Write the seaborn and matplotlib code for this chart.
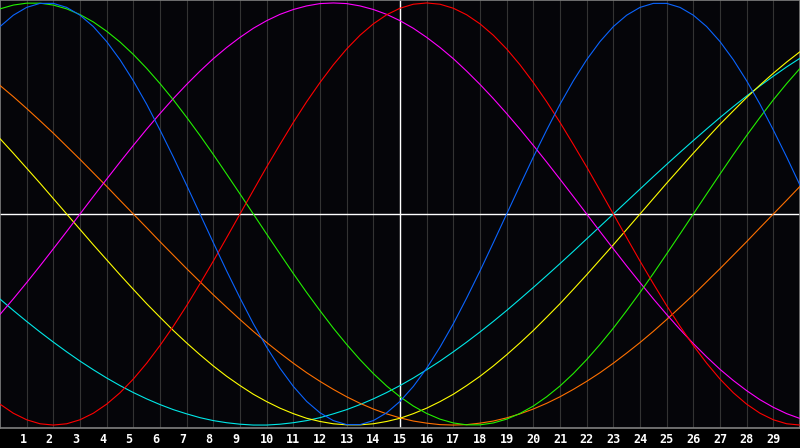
import matplotlib
matplotlib.use('Agg')
import matplotlib.pyplot as plt
import pandas as pd
import seaborn as sns

# day of month (x, read every half day) and the cycle values
days = [d / 2 for d in range(61)]
tick_days = list(range(1, 30))

physical = [0.888, 0.942, 0.979, 0.998, 0.998, 0.979, 0.942, 0.888, 0.817, 0.731, 0.631,
            0.520, 0.398, 0.270, 0.136, 0.000, -0.136, -0.270, -0.398, -0.520, -0.631,
            -0.731, -0.817, -0.888, -0.942, -0.979, -0.998, -0.998, -0.979, -0.942, -0.888,
            -0.817, -0.731, -0.631, -0.520, -0.398, -0.270, -0.136, 0.000, 0.136, 0.270,
            0.398, 0.520, 0.631, 0.731, 0.817, 0.888, 0.942, 0.979, 0.998, 0.998, 0.979,
            0.942, 0.888, 0.817, 0.731, 0.631, 0.520, 0.398, 0.270, 0.136]
emotional = [-0.901, -0.944, -0.975, -0.994, -1.000, -0.994, -0.975, -0.944, -0.901, -0.847,
             -0.782, -0.707, -0.623, -0.532, -0.434, -0.330, -0.223, -0.112, 0.000, 0.112,
             0.223, 0.330, 0.434, 0.532, 0.623, 0.707, 0.782, 0.847, 0.901, 0.944, 0.975,
             0.994, 1.000, 0.994, 0.975, 0.944, 0.901, 0.847, 0.782, 0.707, 0.623, 0.532,
             0.434, 0.330, 0.223, 0.112, 0.000, -0.112, -0.223, -0.330, -0.434, -0.532,
             -0.623, -0.707, -0.782, -0.847, -0.901, -0.944, -0.975, -0.994, -1.000]
intellectual = [0.972, 0.990, 0.999, 0.999, 0.990, 0.972, 0.945, 0.910, 0.866, 0.815, 0.756,
                0.690, 0.618, 0.541, 0.458, 0.372, 0.282, 0.189, 0.095, 0.000, -0.095,
                -0.189, -0.282, -0.372, -0.458, -0.541, -0.618, -0.690, -0.756, -0.815,
                -0.866, -0.910, -0.945, -0.972, -0.990, -0.999, -0.999, -0.990, -0.972,
                -0.945, -0.910, -0.866, -0.815, -0.756, -0.690, -0.618, -0.541, -0.458,
                -0.372, -0.282, -0.189, -0.095, 0.000, 0.095, 0.189, 0.282, 0.372, 0.458,
                0.541, 0.618, 0.690]
intuitive = [-0.476, -0.402, -0.325, -0.246, -0.165, -0.083, 0.000, 0.083, 0.165, 0.246,
             0.325, 0.402, 0.476, 0.547, 0.614, 0.677, 0.736, 0.789, 0.837, 0.880, 0.916,
             0.946, 0.969, 0.986, 0.997, 1.000, 0.997, 0.986, 0.969, 0.946, 0.916, 0.880,
             0.837, 0.789, 0.736, 0.677, 0.614, 0.547, 0.476, 0.402, 0.325, 0.246, 0.165,
             0.083, 0.000, -0.083, -0.165, -0.246, -0.325, -0.402, -0.476, -0.547, -0.614,
             -0.677, -0.736, -0.789, -0.837, -0.880, -0.916, -0.946, -0.969]
aesthetic = [0.357, 0.288, 0.217, 0.146, 0.073, 0.000, -0.073, -0.146, -0.217, -0.288,
             -0.357, -0.425, -0.489, -0.552, -0.611, -0.667, -0.720, -0.769, -0.813, -0.854,
             -0.889, -0.920, -0.946, -0.968, -0.983, -0.994, -0.999, -0.999, -0.994, -0.983,
             -0.968, -0.946, -0.920, -0.889, -0.854, -0.813, -0.769, -0.720, -0.667, -0.611,
             -0.552, -0.489, -0.425, -0.357, -0.288, -0.217, -0.146, -0.073, 0.000, 0.073,
             0.146, 0.217, 0.288, 0.357, 0.425, 0.489, 0.552, 0.611, 0.667, 0.720, 0.769]
awareness = [0.609, 0.556, 0.500, 0.442, 0.383, 0.321, 0.259, 0.195, 0.131, 0.065, 0.000,
             -0.065, -0.131, -0.195, -0.259, -0.321, -0.383, -0.442, -0.500, -0.556, -0.609,
             -0.659, -0.707, -0.752, -0.793, -0.831, -0.866, -0.897, -0.924, -0.947, -0.966,
             -0.981, -0.991, -0.998, -1.000, -0.998, -0.991, -0.981, -0.966, -0.947, -0.924,
             -0.897, -0.866, -0.831, -0.793, -0.752, -0.707, -0.659, -0.609, -0.556, -0.500,
             -0.442, -0.383, -0.321, -0.259, -0.195, -0.131, -0.065, 0.000, 0.065, 0.131]
spiritual = [-0.403, -0.457, -0.509, -0.559, -0.607, -0.653, -0.697, -0.738, -0.777, -0.813,
             -0.846, -0.876, -0.903, -0.927, -0.947, -0.965, -0.979, -0.989, -0.996, -1.000,
             -1.000, -0.996, -0.989, -0.979, -0.965, -0.947, -0.927, -0.903, -0.876, -0.846,
             -0.813, -0.777, -0.738, -0.697, -0.653, -0.607, -0.559, -0.509, -0.457, -0.403,
             -0.348, -0.292, -0.235, -0.177, -0.118, -0.059, 0.000, 0.059, 0.118, 0.177,
             0.235, 0.292, 0.348, 0.403, 0.457, 0.509, 0.559, 0.607, 0.653, 0.697, 0.738]

cycles = ['spiritual', 'awareness', 'aesthetic', 'intuitive', 'intellectual', 'emotional', 'physical']
series = [spiritual, awareness, aesthetic, intuitive, intellectual, emotional, physical]
palette = {'physical': '#0a64ff', 'emotional': '#ff0000', 'intellectual': '#22f000',
           'intuitive': '#ff00ff', 'aesthetic': '#ffff00', 'awareness': '#ff7000',
           'spiritual': '#00e8e8'}

df = pd.DataFrame({
    'day': days * len(series),
    'value': [v for s in series for v in s],
    'cycle': [c for c in cycles for _ in days],
})

sns.set_style('dark', {'axes.facecolor': '#050509', 'figure.facecolor': '#000000',
                       'axes.edgecolor': '#808080'})

fig = plt.figure(figsize=(8, 4.48), dpi=100)
ax = fig.add_axes([0, 20 / 448, 1, 428 / 448])

sns.lineplot(data=df, x='day', y='value', hue='cycle', hue_order=cycles, palette=palette,
             estimator=None, sort=False, legend=False, lw=0.8, ax=ax, zorder=3)

ax.set_xlim(0, 30)
ax.set_ylim(-1.014, 1.014)
ax.set_xticks(tick_days)
ax.set_xticklabels([f"{d:<2}" for d in tick_days], family='DejaVu Sans Mono',
                   fontweight='bold', fontsize=8.5, color='white')
ax.set_yticks([])
ax.tick_params(axis='x', length=0, pad=3.5)
ax.grid(False)
for d in tick_days:
    ax.axvline(d, color='#333333', lw=0.8, zorder=1)
ax.axvline(15, color='white', lw=1, zorder=2)
ax.axhline(0, color='white', lw=1, zorder=2)
for sp in ax.spines.values():
    sp.set_color('#808080')
    sp.set_linewidth(1.2)
ax.set_xlabel('')
ax.set_ylabel('')

fig.savefig('out.png', dpi=100, facecolor='#000000')
